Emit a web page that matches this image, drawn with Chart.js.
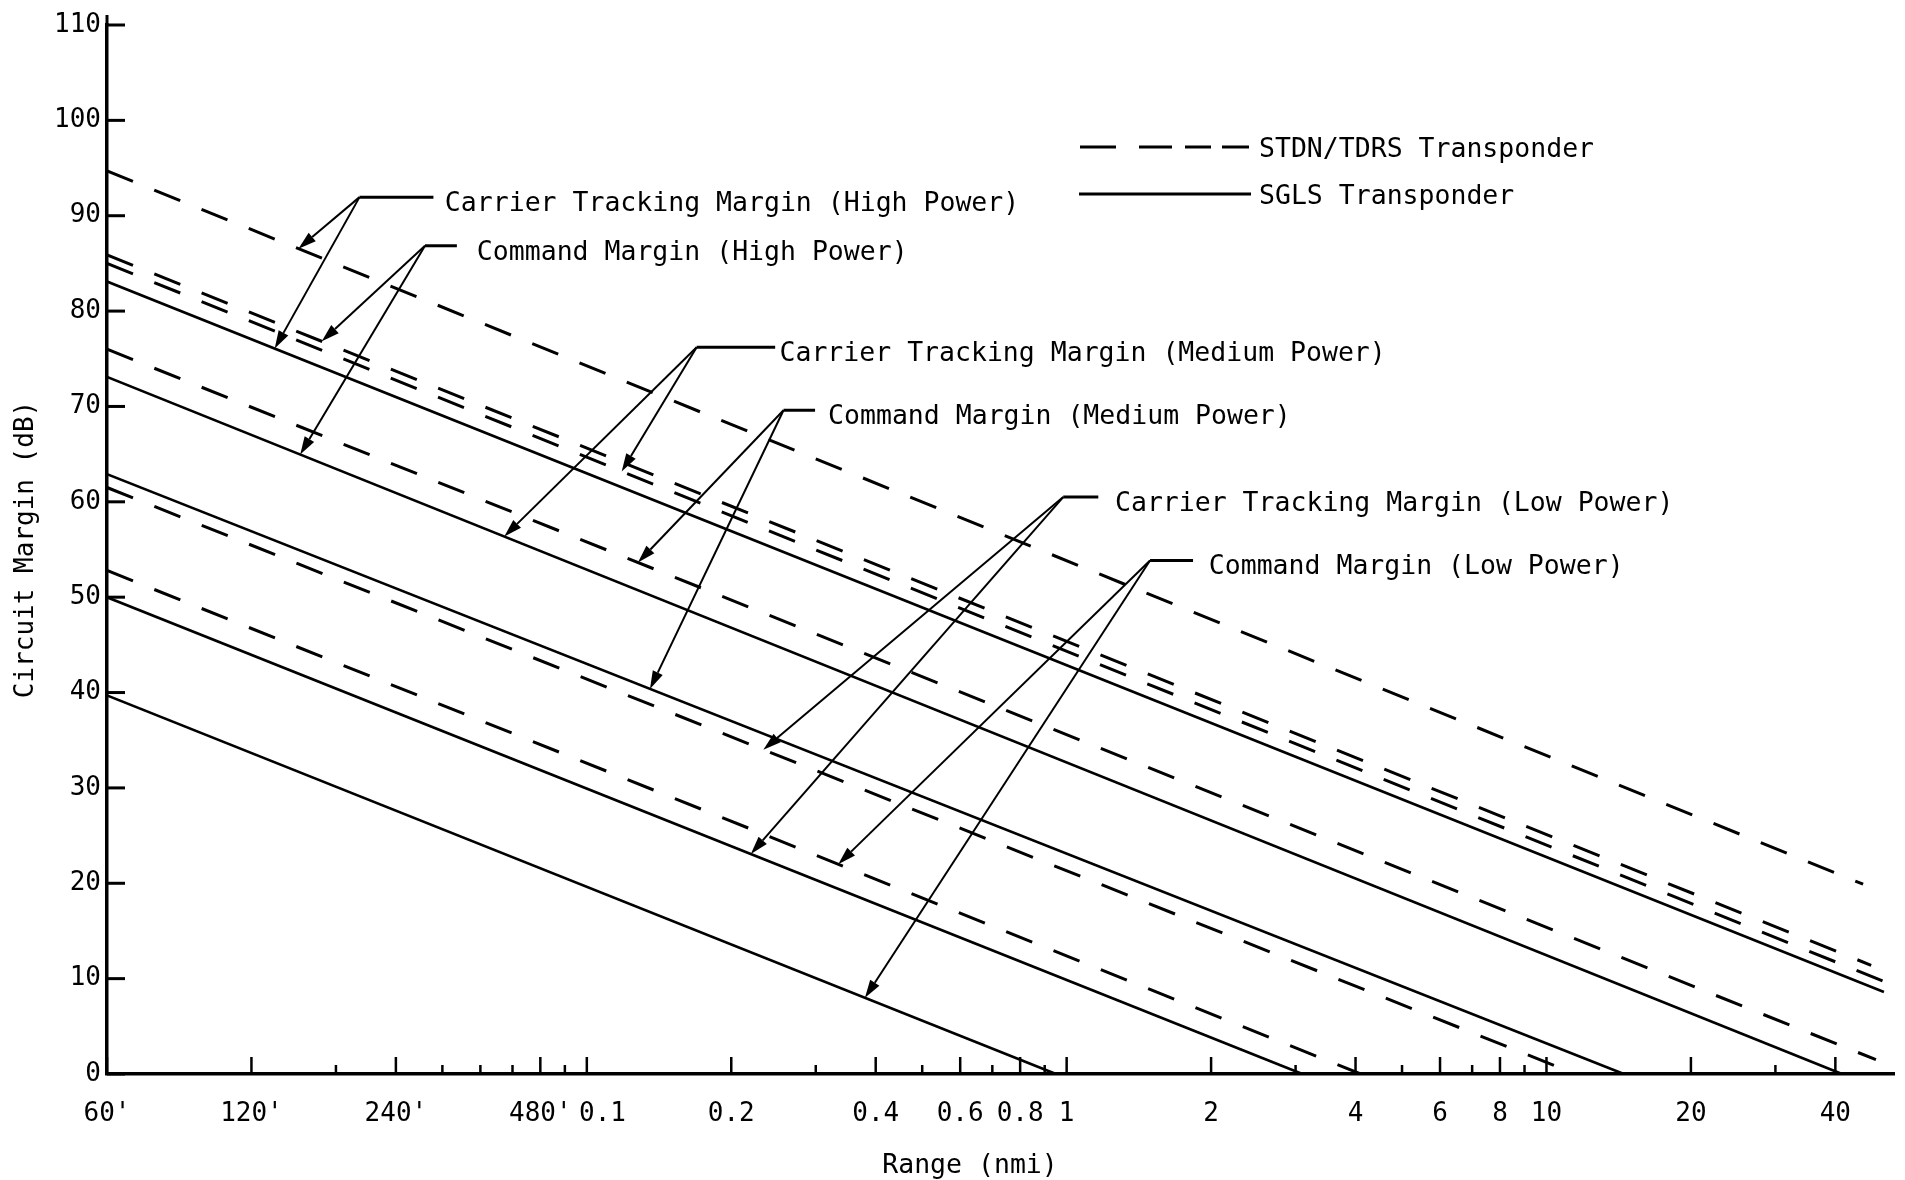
<!DOCTYPE html>
<html lang="en">
<head>
    <meta charset="UTF-8">
    <title>Circuit Margin vs Range</title>
    <style>
        html, body { margin: 0; padding: 0; background: #fff; }
        #marginChart { display: block; }
    </style>
</head>
<body>
    <canvas id="marginChart" width="1905" height="1180"></canvas>

    <script src="https://cdn.jsdelivr.net/npm/chart.js@4.4.0/dist/chart.umd.min.js"></script>
    <script>
        // Range axis (nmi). Left edge is 60 ft, short ranges are labelled in feet
        const rangeTicks = [
            0.01, 0.02, 0.03, 0.04, 0.05, 0.06, 0.07, 0.08, 0.09,
            0.1, 0.2, 0.3, 0.4, 0.5, 0.6, 0.7, 0.8, 0.9,
            1, 2, 3, 4, 5, 6, 7, 8, 9,
            10, 20, 30, 40
        ];
        const rangeLabels = [
            "60'", "120'", "", "240'", "", "", "", "480'", "",
            "  0.1", "0.2", "", "0.4", "", "0.6", "", "0.8", "",
            "1", "2", "", "4", "", "6", "", "8", "",
            "10", "20", "", "40"
        ];
        const marginTicks = [0, 10, 20, 30, 40, 50, 60, 70, 80, 90, 100, 110];

        // Each margin curve is a straight line: margin at 60 ft, and where it ends
        const curveNames = [
            'STDN/TDRS Carrier Tracking (High Power)',
            'STDN/TDRS Command (High Power)',
            'STDN/TDRS Carrier Tracking (Medium Power)',
            'SGLS Carrier Tracking (High Power)',
            'STDN/TDRS Command (Medium Power)',
            'SGLS Command (High Power) / Carrier Tracking (Medium Power)',
            'SGLS Command (Medium Power)',
            'STDN/TDRS Carrier Tracking (Low Power)',
            'STDN/TDRS Command (Low Power)',
            'SGLS Carrier Tracking (Low Power)',
            'SGLS Command (Low Power)'
        ];
        const curveTransponder = ['STDN/TDRS', 'STDN/TDRS', 'STDN/TDRS', 'SGLS', 'STDN/TDRS', 'SGLS',
                                  'SGLS', 'STDN/TDRS', 'STDN/TDRS', 'SGLS', 'SGLS'];
        const startRange = 0.01;
        const startMargin = [94.7, 85.9, 85.0, 83.1, 76.0, 73.1, 62.9, 61.5, 52.8, 50.0, 39.7];
        const endRange    = [45.7, 47.5, 51.4, 50.5, 48.6, 41.3, 14.5, 11.5, 4.1, 3.1, 0.95];
        const endMargin   = [19.9, 11.4, 9.55, 8.6, 1.5, 0, 0, 0, 0, 0, 0];

        // Callouts: apex of the leader (range, dB), arrows go to [curve index, range]
        const callouts = [
            { text: 'Carrier Tracking Margin (High Power)', apex: [0.0336, 91.95], leaderTo: 0.0479, textAt: 0.0506,
              tips: [[0, 0.02506], [3, 0.02236]] },
            { text: 'Command Margin (High Power)', apex: [0.0460, 86.85], leaderTo: 0.0536, textAt: 0.0590,
              tips: [[1, 0.02803], [5, 0.02527]] },
            { text: 'Carrier Tracking Margin (Medium Power)', apex: [0.1694, 76.2], leaderTo: 0.2469, textAt: 0.2521,
              tips: [[5, 0.0673], [2, 0.1182]] },
            { text: 'Command Margin (Medium Power)', apex: [0.2570, 69.6], leaderTo: 0.2990, textAt: 0.3183,
              tips: [[4, 0.1278], [6, 0.1354]] },
            { text: 'Carrier Tracking Margin (Low Power)', apex: [0.9838, 60.5], leaderTo: 1.164, textAt: 1.261,
              tips: [[7, 0.2333], [9, 0.2197]] },
            { text: 'Command Margin (Low Power)', apex: [1.492, 53.85], leaderTo: 1.834, textAt: 1.978,
              tips: [[8, 0.3342], [10, 0.3799]] }
        ];

        const FONT_FAMILY = '"DejaVu Sans Mono", monospace';
        const TEXT_FONT = '26.5px ' + FONT_FAMILY;

        function line(ctx, x0, y0, x1, y1) {
            ctx.beginPath();
            ctx.moveTo(x0, y0);
            ctx.lineTo(x1, y1);
            ctx.stroke();
        }

        function arrow(ctx, x0, y0, x1, y1) {
            const ang = Math.atan2(y1 - y0, x1 - x0);
            const len = 18, half = 5.5;
            const bx = x1 - len * Math.cos(ang);
            const by = y1 - len * Math.sin(ang);
            line(ctx, x0, y0, bx, by);
            ctx.beginPath();
            ctx.moveTo(x1, y1);
            ctx.lineTo(bx + half * Math.sin(ang), by - half * Math.cos(ang));
            ctx.lineTo(bx - half * Math.sin(ang), by + half * Math.cos(ang));
            ctx.closePath();
            ctx.fill();
        }

        // pixel on a drawn curve at a given range
        function pointOnCurve(chart, idx, range) {
            const pts = chart.getDatasetMeta(idx).data;
            const px = chart.scales.x.getPixelForValue(range);
            const t = (px - pts[0].x) / (pts[1].x - pts[0].x);
            return { x: px, y: pts[0].y + t * (pts[1].y - pts[0].y) };
        }

        const extras = {
            id: 'extras',
            afterDatasetsDraw(chart) {
                const { ctx, chartArea: area, scales: { x, y } } = chart;
                ctx.save();
                ctx.strokeStyle = '#000';
                ctx.fillStyle = '#000';

                // inward tick marks
                ctx.lineWidth = 3;
                y.ticks.forEach(t => {
                    const py = y.getPixelForValue(t.value);
                    line(ctx, area.left, py, area.left + 18, py);
                });
                line(ctx, area.left, area.top, area.left, area.top - 10);

                ctx.lineWidth = 2.5;
                x.ticks.forEach((t, i) => {
                    const px = x.getPixelForValue(t.value);
                    line(ctx, px, area.bottom, px, area.bottom - (rangeLabels[i] ? 17 : 9));
                });

                // callouts with leaders and arrows
                ctx.font = TEXT_FONT;
                ctx.textAlign = 'left';
                ctx.textBaseline = 'alphabetic';
                callouts.forEach(c => {
                    const ax = x.getPixelForValue(c.apex[0]);
                    const ay = y.getPixelForValue(c.apex[1]);
                    ctx.lineWidth = 3;
                    line(ctx, ax, ay, x.getPixelForValue(c.leaderTo), ay);
                    ctx.fillText(c.text, x.getPixelForValue(c.textAt), ay + 14);
                    ctx.lineWidth = 2;
                    c.tips.forEach(([idx, range]) => {
                        const tip = pointOnCurve(chart, idx, range);
                        arrow(ctx, ax, ay, tip.x, tip.y);
                    });
                });

                // legend, top right
                ctx.lineWidth = 3;
                const lx = 1079;
                [[1, 37], [60, 93], [106, 132], [143, 170]].forEach(([a, b]) => line(ctx, lx + a, 147, lx + b, 147));
                ctx.fillText('STDN/TDRS Transponder', 1259, 147 + 9.7);
                line(ctx, lx, 194, 1251, 194);
                ctx.fillText('SGLS Transponder', 1259, 194 + 9.7);

                // range axis title
                ctx.textAlign = 'center';
                ctx.fillText('Range (nmi)', 970, 1163 + 9.7);
                ctx.restore();
            }
        };

        function createChart() {
            const ctx = document.getElementById('marginChart').getContext('2d');

            const datasets = curveNames.map((name, i) => {
                const dashed = curveTransponder[i] === 'STDN/TDRS';
                return {
                    label: name,
                    data: [
                        { x: startRange, y: startMargin[i] },
                        { x: endRange[i], y: endMargin[i] }
                    ],
                    borderColor: '#000',
                    borderWidth: dashed ? 3 : 2.7,
                    borderDash: dashed ? [28, 23] : [],
                    pointRadius: 0,
                    pointHitRadius: 0,
                    tension: 0,
                    fill: false
                };
            });

            new Chart(ctx, {
                type: 'line',
                data: { datasets },
                options: {
                    responsive: false,
                    animation: false,
                    devicePixelRatio: 1,
                    layout: { padding: { top: 25, right: 11, left: 0, bottom: 0 } },
                    plugins: {
                        legend: { display: false },
                        tooltip: { enabled: false }
                    },
                    scales: {
                        x: {
                            type: 'logarithmic',
                            min: 0.01,
                            max: 53,
                            grid: { display: false, drawTicks: false },
                            border: { display: true, color: '#000', width: 3.5 },
                            afterBuildTicks: s => { s.ticks = rangeTicks.map(v => ({ value: v })); },
                            afterFit: s => { s.height = 106; },
                            ticks: {
                                autoSkip: false,
                                maxRotation: 0,
                                minRotation: 0,
                                padding: 25,
                                color: '#000',
                                font: { family: FONT_FAMILY, size: 26 },
                                callback: (value, index) => rangeLabels[index]
                            }
                        },
                        y: {
                            type: 'linear',
                            min: 0,
                            max: 110,
                            grid: { display: false, drawTicks: false },
                            border: { display: true, color: '#000', width: 3.5 },
                            afterBuildTicks: s => { s.ticks = marginTicks.map(v => ({ value: v })); },
                            afterFit: s => { s.width = 107; },
                            ticks: {
                                padding: 6,
                                color: '#000',
                                font: { family: FONT_FAMILY, size: 26 }
                            },
                            title: {
                                display: true,
                                text: 'Circuit Margin (dB)',
                                color: '#000',
                                font: { family: FONT_FAMILY, size: 26 },
                                padding: { top: 11, bottom: 0 }
                            }
                        }
                    }
                },
                plugins: [extras]
            });
        }

        document.addEventListener('DOMContentLoaded', createChart);
    </script>
</body>
</html>
